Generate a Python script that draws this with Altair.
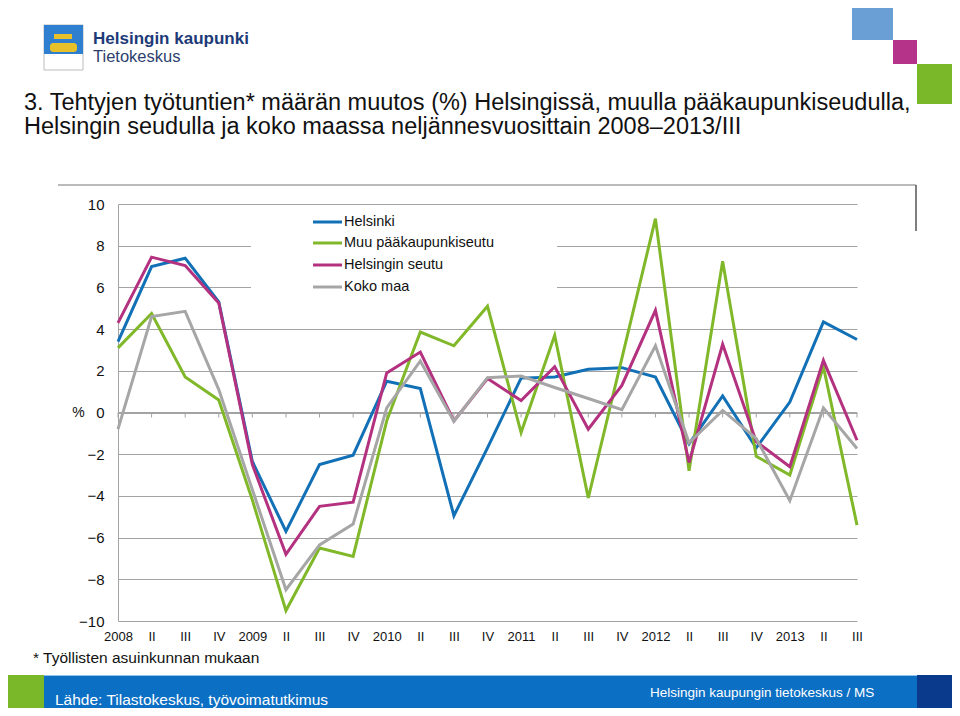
import json
import altair as alt
import pandas as pd

F = "Liberation Sans"

quarters = ["2008", "II", "III", "IV", "2009", "II", "III", "IV", "2010", "II", "III", "IV",
            "2011", "II", "III", "IV", "2012", "II", "III", "IV", "2013", "II", "III"]

series_names = ["Helsinki", "Muu pääkaupunkiseutu", "Helsingin seutu", "Koko maa"]
series_colors = ["#1170b6", "#80b82a", "#b3317f", "#a6a6a6"]

helsinki = [3.4, 7.0, 7.4, 5.3, -2.35, -5.7, -2.5, -2.05, 1.5, 1.15, -4.95, -1.7,
            1.65, 1.7, 2.07, 2.15, 1.7, -1.5, 0.8, -1.7, 0.5, 4.35, 3.5]
muu_pks = [3.1, 4.75, 1.7, 0.6, -4.2, -9.5, -6.5, -6.9, -0.4, 3.86, 3.2, 5.1,
           -0.96, 3.7, -4.1, 2.6, 9.3, -2.8, 7.25, -2.1, -3.0, 2.2, -5.4]
hki_seutu = [4.3, 7.45, 7.05, 5.25, -2.5, -6.8, -4.5, -4.3, 1.9, 2.9, -0.4, 1.63,
             0.57, 2.2, -0.8, 1.3, 4.9, -2.4, 3.27, -1.4, -2.6, 2.5, -1.33]
koko_maa = [-0.8, 4.6, 4.85, 1.1, -3.7, -8.5, -6.35, -5.35, 0.22, 2.47, -0.42, 1.67,
            1.75, 1.2, 0.67, 0.14, 3.2, -1.45, 0.1, -1.25, -4.23, 0.22, -1.73]

y_ticks = list(range(-10, 11, 2))

title_1 = "3. Tehtyjen työtuntien* määrän muutos (%) Helsingissä, muulla pääkaupunkiseudulla,"
title_2 = "Helsingin seudulla ja koko maassa neljännesvuosittain 2008–2013/III"
footnote = "* Työllisten asuinkunnan mukaan"
source = "Lähde: Tilastokeskus, työvoimatutkimus"
credit = "Helsingin kaupungin tietokeskus / MS"

all_series = [helsinki, muu_pks, hki_seutu, koko_maa]

W, H = 739, 417
one = pd.DataFrame({"k": [0]})

xs = alt.Scale(domain=[0, len(quarters) - 1], nice=False, zero=False)
ys = alt.Scale(domain=[-10, 10], nice=False, zero=False)
label_expr = json.dumps(quarters) + "[datum.value]"
x_axis = alt.Axis(values=list(range(len(quarters))), labelExpr=label_expr, domain=False,
                  ticks=False, grid=False, labelFontSize=13, labelPadding=9,
                  labelColor="#111", labelFont=F, title=None, labelFlush=False,
                  labelOverlap=False)
y_axis = alt.Axis(values=y_ticks, grid=True, gridColor="#a3a3a3", gridWidth=1,
                  domain=True, domainColor="#a3a3a3", ticks=False, labelFontSize=15,
                  labelPadding=14, labelColor="#111", labelFont=F, title="%",
                  titleAngle=0, titleX=-40, titleY=H / 2, titleFontSize=14,
                  titleFontWeight="normal", titleAlign="center", titleBaseline="middle",
                  titleFont=F, titleColor="#111")


def xenc(field):
    return alt.X(field, type="quantitative", scale=xs, axis=x_axis)


def yenc(field):
    return alt.Y(field, type="quantitative", scale=ys, axis=y_axis)


def txt(s, x, y, size, color="#111", weight="normal", align="left"):
    return alt.Chart(one).mark_text(text=s, font=F, fontSize=size, color=color,
                                    fontWeight=weight, align=align,
                                    baseline="alphabetic").encode(
        x=alt.value(x), y=alt.value(y))


def box(x1, y1, x2, y2, color, stroke=None, radius=0):
    kw = {}
    if stroke:
        kw["stroke"] = stroke
        kw["strokeWidth"] = 1
    if radius:
        kw["cornerRadius"] = radius
    return alt.Chart(one).mark_rect(color=color, **kw).encode(
        x=alt.value(x1), x2=alt.value(x2), y=alt.value(y1), y2=alt.value(y2))


def hline(x1, x2, y, color, width=1):
    return alt.Chart(one).mark_rule(color=color, strokeWidth=width).encode(
        x=alt.value(x1), x2=alt.value(x2), y=alt.value(y))


def vline(x, y1, y2, color, width=1):
    return alt.Chart(one).mark_rule(color=color, strokeWidth=width).encode(
        x=alt.value(x), y=alt.value(y1), y2=alt.value(y2))


layers = []

# grid/axes carrier + zero line
zero_df = pd.DataFrame({"idx": [0, len(quarters) - 1], "v": [0, 0]})
layers.append(alt.Chart(zero_df).mark_line(color="#a3a3a3", strokeWidth=1).encode(
    x=xenc("idx"), y=yenc("v")))

tick_df = pd.DataFrame({"idx": list(range(len(quarters)))})
layers.append(alt.Chart(tick_df).mark_rule(color="#a3a3a3", strokeWidth=1).encode(
    x=xenc("idx"), y=alt.value(H / 2), y2=alt.value(H / 2 + 5)))

# white legend background covering gridlines
layers.append(box(133, 7, 439, 118, "white"))

# series lines
for name, vals, col in zip(series_names, all_series, series_colors):
    df = pd.DataFrame({"idx": list(range(len(quarters))), "value": vals,
                       "series": name})
    layers.append(alt.Chart(df).mark_line(color=col, strokeWidth=3,
                                          strokeJoin="miter").encode(
        x=xenc("idx"), y=yenc("value")))

# legend
leg_y = [18, 39, 61, 83]
for name, col, ly in zip(series_names, series_colors, leg_y):
    layers.append(hline(195, 224, ly, col, 3))
    layers.append(alt.Chart(one).mark_text(text=name, font=F, fontSize=14.5,
                                           color="#111", align="left",
                                           baseline="middle").encode(
        x=alt.value(226), y=alt.value(ly)))

# frame lines
layers.append(hline(-60, 798, -19, "#777", 1))
layers.append(vline(798, -19, 27, "#555", 1.5))

# titles
layers.append(txt(title_1, -94, -94, 23.5))
layers.append(txt(title_2, -94, -70, 23.5))

# logo
layers.append(box(-74, -179, -35, -134, "white", stroke="#bbbbbb"))
layers.append(box(-74, -179, -35, -150, "#2f7fd0"))
layers.append(box(-68, -161, -41, -152, "#e8c02a", radius=3))
layers.append(box(-64, -170, -46, -165, "#e8c02a"))
layers.append(txt("Helsingin kaupunki", -25, -160, 17, "#1d3a78", "bold"))
layers.append(txt("Tietokeskus", -25, -142, 16.5, "#2d3f6e"))

# corner squares
layers.append(box(734, -203, 775, -164, "#6a9fd6"))
layers.append(box(775, -164, 799, -140, "#b5348a"))
layers.append(box(799, -140, 839, -100, "#7ab82a"))

# footnote
layers.append(txt(footnote, -85, 459, 15.5))

# footer bar
layers.append(box(-110, 471, -74, 504, "#7ab82a"))
layers.append(box(-74, 471, 799, 504, "#0b6fc4"))
layers.append(box(799, 471, 834, 504, "#0a3a8c"))
layers.append(hline(-74, 799, 471.5, "#8fc3ea", 1))
layers.append(txt(source, -63, 501, 15.5, "white"))
layers.append(txt(credit, 532, 493, 13.5, "white"))

chart = alt.layer(*layers).properties(
    width=W, height=H,
    padding={"left": 110, "top": 196, "right": 95, "bottom": 87},
    autosize=alt.AutoSizeParams(type="none"),
    background="white",
).configure_view(stroke=None)

chart.save("out.html", embed_options={"renderer": "svg", "actions": False})
